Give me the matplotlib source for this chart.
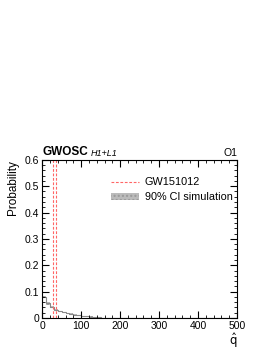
import numpy as np
import matplotlib
matplotlib.use('Agg')
import matplotlib.pyplot as plt
from matplotlib.patches import Patch
from matplotlib.lines import Line2D
from matplotlib.ticker import MultipleLocator

plt.rcParams['font.family'] = ['Liberation Sans', 'DejaVu Sans']

# histogram of q-hat from simulation (bin edges, probability)
bin_edges = [0, 10, 20, 30, 40, 50, 60, 70, 80, 90, 100, 110, 120, 130, 140, 150, 160, 500]
probs = [0.080, 0.055, 0.042, 0.032, 0.026, 0.022, 0.018, 0.015, 0.012, 0.010, 0.008, 0.006, 0.005, 0.003, 0.002, 0.001, 0.0]
ci_low = [0.075, 0.051, 0.039, 0.029, 0.024, 0.020, 0.016, 0.013, 0.011, 0.009, 0.007, 0.005, 0.004, 0.002, 0.001, 0.0005, 0.0]
ci_high = [0.085, 0.059, 0.045, 0.035, 0.028, 0.024, 0.020, 0.017, 0.014, 0.011, 0.009, 0.007, 0.006, 0.004, 0.003, 0.0015, 0.0]
observed = [29, 35]

fig = plt.figure(figsize=(2.7, 3.49), dpi=100)
ax = fig.add_axes([0.156, 0.089, 0.722, 0.453])

edges = np.array(bin_edges)
ax.stairs(ci_high, edges, baseline=ci_low, fill=True, color='#bbbbbb', hatch='....', edgecolor='#999999', linewidth=0)
ax.stairs(probs, edges, color='#888888', linewidth=0.8)
for q in observed:
    ax.axvline(q, color='#ff6666', linestyle='--', linewidth=0.8, dashes=(2.5, 1.5))

ax.set_xlim(0, 500)
ax.set_ylim(0, 0.6)
ax.xaxis.set_major_locator(MultipleLocator(100))
ax.xaxis.set_minor_locator(MultipleLocator(20))
ax.yaxis.set_major_locator(MultipleLocator(0.1))
ax.yaxis.set_minor_locator(MultipleLocator(0.02))
ax.tick_params(which='both', direction='in', top=True, right=True, labelsize=7.5, pad=2)
ax.tick_params(which='major', length=5, width=0.8)
ax.tick_params(which='minor', length=2.5, width=0.6)
ax.set_yticks([0, 0.1, 0.2, 0.3, 0.4, 0.5, 0.6])
ax.set_yticklabels(['0', '0.1', '0.2', '0.3', '0.4', '0.5', '0.6'])

ax.set_ylabel('Probability', fontsize=8.5, loc='top')
ax.set_xlabel(r'$\hat{\mathrm{q}}$', fontsize=8.5, loc='right', labelpad=0)

handles = [Line2D([0], [0], color='#ff6666', linestyle='--', linewidth=0.8, dashes=(2.5, 1.5)),
           Patch(facecolor='#bbbbbb', hatch='....', edgecolor='#999999', linewidth=0)]
ax.legend(handles, ['GW151012', '90% CI simulation'], frameon=False, fontsize=7.8,
          loc='upper left', bbox_to_anchor=(0.305, 0.95), handlelength=2.6,
          handletextpad=0.5, labelspacing=0.45)

fig.text(0.156, 0.547, 'GWOSC', fontsize=8.5, fontweight='bold', va='bottom')
fig.text(0.335, 0.547, 'H1+L1', fontsize=6.5, style='italic', va='bottom')
fig.text(0.878, 0.547, 'O1', fontsize=7.5, ha='right', va='bottom')

fig.savefig('out.png', dpi=100)
